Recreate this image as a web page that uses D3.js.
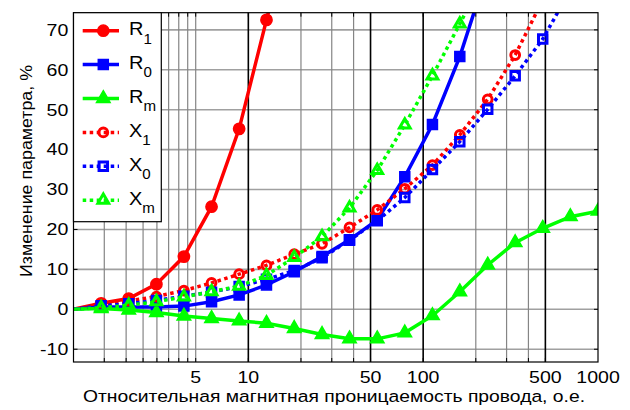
<!DOCTYPE html>
<html>
<head>
<meta charset="utf-8">
<script src="https://cdn.jsdelivr.net/npm/d3@7"></script>
<style>
  body { margin: 0; background: #fff; }
  svg { display: block; font-family: "Liberation Sans", Arial, sans-serif; }
</style>
</head>
<body>
<div id="plot-container"></div>
<script>
// relative permeability (x) values
const mu = [1, 1.44, 2.07, 2.98, 4.28, 6.16, 8.86, 12.7, 18.3, 26.4, 37.9, 54.6, 78.5, 113, 162, 234, 336, 483, 695, 1000];

// parameter change, %
const R1 = [0, 1.5, 2.7, 6.3, 13.2, 25.7, 45.2, 72.5, 100];
const R0 = [0, 0.6, 0.6, 0.6, 0.8, 1.9, 3.6, 6.1, 9.4, 13.2, 17.4, 22.4, 33.2, 46.3, 63.3, 85];
const Rm = [0, 0.2, -0.2, -0.8, -1.7, -2.3, -2.9, -3.5, -4.8, -6.3, -7.4, -7.4, -5.9, -1.6, 4.4, 11.1, 16.7, 20.3, 23.2, 24.6];
const X1 = [0, 1.2, 2.1, 3.2, 4.7, 6.6, 8.8, 11.0, 13.8, 16.4, 20.5, 24.9, 30.2, 36.1, 43.7, 52.6, 63.7, 77.5];
const X0 = [0, 0.9, 1.4, 2.2, 3.3, 4.3, 5.7, 7.5, 9.7, 12.9, 17.3, 22.2, 28.0, 35.0, 42.0, 50.1, 58.5, 67.7, 80];
const Xm = [0, 0.4, 1.0, 1.9, 3.1, 4.4, 5.8, 8.5, 13.0, 18.2, 25.4, 34.8, 46.2, 58.5, 71.5, 85];

const xTickLabels = [5, 10, 50, 100, 500, 1000];
const xMinorGrid = [1.5, 2, 2.5, 3, 3.5, 4, 4.5, 5, 20, 30, 40, 200, 300, 400];
const xMajorGrid = [10, 50, 100, 500];
const yTicks = [-10, 0, 10, 20, 30, 40, 50, 60, 70];

const series = [
  { name: 'R', sub: '1', values: R1, color: '#ff0000', marker: 'circle', dotted: false },
  { name: 'R', sub: '0', values: R0, color: '#0000ff', marker: 'square', dotted: false },
  { name: 'R', sub: 'm', values: Rm, color: '#00ff00', marker: 'triangle', dotted: false },
  { name: 'X', sub: '1', values: X1, color: '#ff0000', marker: 'circle', dotted: true },
  { name: 'X', sub: '0', values: X0, color: '#0000ff', marker: 'square', dotted: true },
  { name: 'X', sub: 'm', values: Xm, color: '#00ff00', marker: 'triangle', dotted: true }
];

const width = 630;
const height = 410;
const pLeft = 73.5, pRight = 598, pTop = 12.7, pBottom = 362;
const stretch = 1.2; // glyphs in the picture are wider than Arial

const svg = d3.select('#plot-container')
  .append('svg')
  .attr('width', width)
  .attr('height', height);

const xScale = d3.scaleLog().domain([1, 1000]).range([pLeft, pRight]);
const yScale = d3.scaleLinear().domain([-13.2, 74.3]).range([pBottom, pTop]);

svg.append('defs').append('clipPath').attr('id', 'clip')
  .append('rect')
  .attr('x', pLeft).attr('y', pTop)
  .attr('width', pRight - pLeft).attr('height', pBottom - pTop);

// grid
const grid = svg.append('g');
grid.selectAll('.hgrid')
  .data(yTicks)
  .enter().append('line')
  .attr('x1', pLeft).attr('x2', pRight)
  .attr('y1', d => yScale(d)).attr('y2', d => yScale(d))
  .attr('stroke', '#a0a0a0').attr('stroke-width', 1.6);
grid.selectAll('.vminor')
  .data(xMinorGrid)
  .enter().append('line')
  .attr('x1', d => xScale(d)).attr('x2', d => xScale(d))
  .attr('y1', pTop).attr('y2', pBottom)
  .attr('stroke', '#858585').attr('stroke-width', 1.2);
grid.selectAll('.vmajor')
  .data(xMajorGrid)
  .enter().append('line')
  .attr('x1', d => xScale(d)).attr('x2', d => xScale(d))
  .attr('y1', pTop).attr('y2', pBottom)
  .attr('stroke', '#000').attr('stroke-width', 1.6);

// ticks (inward, like matlab)
const xTickAll = xMinorGrid.concat(xMajorGrid);
svg.append('g').selectAll('line')
  .data(xTickAll)
  .enter().append('line')
  .attr('x1', d => xScale(d)).attr('x2', d => xScale(d))
  .attr('y1', pBottom).attr('y2', pBottom - 4)
  .attr('stroke', '#000');
svg.append('g').selectAll('line')
  .data(xTickAll)
  .enter().append('line')
  .attr('x1', d => xScale(d)).attr('x2', d => xScale(d))
  .attr('y1', pTop).attr('y2', pTop + 4)
  .attr('stroke', '#000');
svg.append('g').selectAll('line')
  .data(yTicks)
  .enter().append('line')
  .attr('x1', pRight).attr('x2', pRight - 4)
  .attr('y1', d => yScale(d)).attr('y2', d => yScale(d))
  .attr('stroke', '#000');
svg.append('g').selectAll('line')
  .data(yTicks)
  .enter().append('line')
  .attr('x1', pLeft).attr('x2', pLeft + 4)
  .attr('y1', d => yScale(d)).attr('y2', d => yScale(d))
  .attr('stroke', '#000');

// tick labels
svg.append('g').selectAll('text')
  .data(yTicks)
  .enter().append('text')
  .attr('transform', d => `translate(68.3,${yScale(d) + 5.8}) scale(${stretch},1)`)
  .attr('text-anchor', 'end')
  .attr('font-size', 16.3)
  .text(d => d);
svg.append('g').selectAll('text')
  .data(xTickLabels)
  .enter().append('text')
  .attr('transform', d => `translate(${xScale(d)},382.8) scale(${stretch},1)`)
  .attr('text-anchor', 'middle')
  .attr('font-size', 16.3)
  .text(d => d);

// axis titles
svg.append('text')
  .attr('x', 334).attr('y', 401.5)
  .attr('text-anchor', 'middle')
  .attr('font-size', 16.3)
  .attr('textLength', 502)
  .attr('lengthAdjust', 'spacingAndGlyphs')
  .text('Относительная магнитная проницаемость провода, о.е.');
svg.append('text')
  .attr('transform', 'translate(31.5,171) rotate(-90)')
  .attr('text-anchor', 'middle')
  .attr('font-size', 16)
  .attr('textLength', 212)
  .attr('lengthAdjust', 'spacingAndGlyphs')
  .text('Изменение параметра, %');

// series
const symbolType = { circle: d3.symbolCircle, square: d3.symbolSquare, triangle: d3.symbolTriangle };
const symbolSize = {
  circle: { filled: 100, hollow: 60 },
  square: { filled: 100, hollow: 72 },
  triangle: { filled: 80, hollow: 50 }
};

const line = d3.line()
  .x((d, i) => xScale(mu[i]))
  .y(d => yScale(d));

const plot = svg.append('g').attr('clip-path', 'url(#clip)');

function drawMarker(sel, s) {
  const size = s.dotted ? symbolSize[s.marker].hollow : symbolSize[s.marker].filled;
  sel.attr('d', d3.symbol().type(symbolType[s.marker]).size(size)())
    .attr('fill', s.dotted ? 'none' : s.color)
    .attr('stroke', s.color)
    .attr('stroke-width', s.dotted ? 3 : 1.5);
}

series.forEach(s => {
  plot.append('path')
    .attr('d', line(s.values))
    .attr('fill', 'none')
    .attr('stroke', s.color)
    .attr('stroke-width', 3.5)
    .attr('stroke-dasharray', s.dotted ? '3.5,3.5' : null);

  plot.selectAll(null)
    .data(s.values.slice(1))
    .enter().append('path')
    .attr('transform', (d, i) => `translate(${xScale(mu[i + 1])},${yScale(d)})`)
    .call(sel => drawMarker(sel, s));
});

// frame
svg.append('rect')
  .attr('x', pLeft).attr('y', pTop)
  .attr('width', pRight - pLeft).attr('height', pBottom - pTop)
  .attr('fill', 'none').attr('stroke', '#000').attr('stroke-width', 1.2);

// legend
const legend = svg.append('g');
legend.append('rect')
  .attr('x', pLeft).attr('y', pTop)
  .attr('width', 161.3 - pLeft).attr('height', 221.7 - pTop)
  .attr('fill', '#fff').attr('stroke', '#000').attr('stroke-width', 1.2);

series.forEach((s, i) => {
  const ly = 30.7 + i * 33.9;
  legend.append('line')
    .attr('x1', 82.7).attr('x2', 119)
    .attr('y1', ly).attr('y2', ly)
    .attr('stroke', s.color)
    .attr('stroke-width', 3.5)
    .attr('stroke-dasharray', s.dotted ? '3.5,3.5' : null);
  legend.append('path')
    .attr('transform', `translate(103.3,${ly})`)
    .call(sel => drawMarker(sel, s));
  const t = legend.append('text')
    .attr('transform', `translate(129,${ly + 4.5}) scale(1.08,1)`)
    .attr('font-size', 18.5);
  t.append('tspan').text(s.name);
  t.append('tspan').attr('dy', 8.3).attr('font-size', 14).text(s.sub);
});
</script>
</body>
</html>
